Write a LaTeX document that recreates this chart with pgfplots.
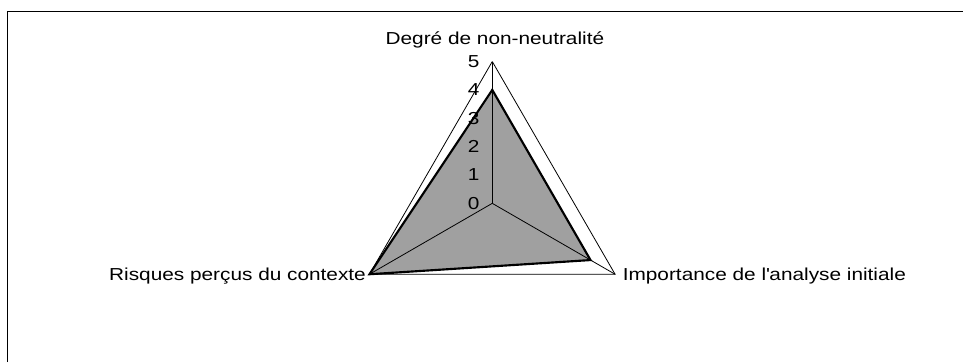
\documentclass[border=0pt]{standalone}
\usepackage{fontspec}
\setmainfont{Liberation Sans}[FakeStretch=1.2]
\usepackage{pgfplots}
\usepgfplotslibrary{polar}
\pgfplotsset{compat=1.18}
\definecolor{fillgray}{RGB}{160,160,160}
\tikzset{lbl/.style={font=\fontsize{13pt}{15pt}\selectfont, inner sep=0pt}}
\begin{document}
\begin{tikzpicture}
\useasboundingbox (0,0) rectangle (722.25pt,271.5pt);
\draw[line width=1.2pt] (5.6pt,0) -- (5.6pt,262.9pt) -- (722.25pt,262.9pt);
\begin{polaraxis}[
  at={(369.2pt,119.0pt)}, anchor=center,
  width=212.7pt, height=212.7pt, scale only axis,
  hide axis, clip=false,
  xmin=0, xmax=360, ymin=0, ymax=5,
]
% outer grid triangle
\addplot[black, line width=0.6pt] coordinates {(90,5) (330,5) (210,5) (90,5)};
% data
\addplot[draw=black, line width=1.6pt, fill=fillgray, line join=miter]
  coordinates {(90,4) (330,4) (210,5) (90,4)} -- cycle;
% spokes
\addplot[black, line width=0.6pt] coordinates {(0,0) (90,5)};
\addplot[black, line width=0.6pt] coordinates {(0,0) (330,5)};
\addplot[black, line width=0.6pt] coordinates {(0,0) (210,5)};
% tick labels
\foreach \k in {0,...,5} {
  \edef\temp{\noexpand\node[lbl, anchor=east, xshift=-9.5pt] at (axis cs:90,\k) {\k};}
  \temp
}
\node[lbl, anchor=base, xshift=2pt, yshift=13pt] at (axis cs:90,5) {Degré de non-neutralité};
\node[lbl, anchor=base west, xshift=5.6pt, yshift=-5pt] at (axis cs:330,5) {Importance de l\textquotesingle analyse initiale};
\node[lbl, anchor=base east, xshift=-2.5pt, yshift=-5pt] at (axis cs:210,5) {Risques perçus du contexte};
\end{polaraxis}
\end{tikzpicture}
\end{document}
